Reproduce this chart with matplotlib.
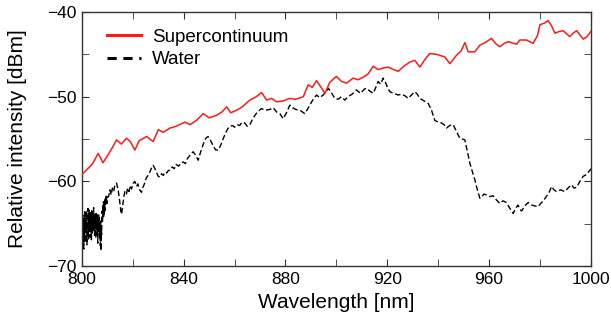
import matplotlib
matplotlib.use("Agg")
import matplotlib.pyplot as plt
from matplotlib.lines import Line2D
from matplotlib.ticker import MultipleLocator
import numpy as np

plt.rcParams['font.family'] = ['Liberation Sans', 'DejaVu Sans']

# Supercontinuum spectrum (red)
sc_wl = [800, 802, 804, 806.4, 808.3, 810, 812, 813.6, 815.5, 817.5, 819, 820.8, 822.5,
         825.4, 828, 830, 832, 834.6, 837, 840.5, 842.5, 845, 847.7, 850, 852.9, 855,
         856.9, 858.5, 860.8, 863, 866, 868.5, 870.6, 872.6, 874.5, 876.5, 879, 881.7,
         884, 887, 888.9, 890.5, 892.2, 894, 895.5, 897.4, 900, 902, 904, 906.6, 908.5,
         910.5, 912.5, 914.5, 916.4, 918.5, 920.4, 922.5, 924.3, 926.5, 928.9, 930.8,
         932.8, 934.8, 936.7, 939.4, 942.6, 944.6, 947.2, 949, 950.5, 951.8, 954.4,
         956.4, 958.5, 961, 962.5, 964.2, 966, 967.5, 970.8, 972.1, 974.7, 977.3, 979,
         980, 981.8, 983.2, 984.5, 985.9, 987.5, 989.1, 991.7, 993, 994.4, 997, 998.5, 1000]
sc_db = [-59.2, -58.6, -58.0, -56.7, -57.8, -57.0, -56.0, -55.1, -55.6, -54.9, -55.3,
         -56.3, -55.2, -54.7, -55.3, -53.9, -54.2, -53.7, -53.5, -53.0, -53.3, -52.8,
         -52.0, -52.5, -52.2, -51.8, -51.2, -51.9, -51.6, -51.2, -50.4, -50.0, -49.5,
         -50.4, -50.2, -50.6, -50.5, -50.2, -50.3, -50.0, -48.6, -48.9, -48.1, -48.9,
         -49.6, -48.3, -47.6, -48.2, -48.4, -47.8, -48.0, -47.7, -47.3, -46.4, -46.8,
         -46.6, -46.5, -46.8, -47.0, -46.4, -45.9, -45.7, -46.5, -45.6, -44.9, -45.0,
         -45.3, -46.1, -45.1, -44.6, -43.6, -44.7, -44.7, -43.9, -43.6, -43.1, -43.7,
         -44.1, -43.7, -43.5, -43.8, -43.3, -43.3, -43.7, -42.8, -41.5, -41.3, -41.0,
         -41.6, -42.5, -42.3, -42.2, -42.9, -42.5, -42.2, -43.2, -42.9, -42.3]

# Water-filtered spectrum (black dashed): noisy start, 800-810 nm in 0.125 nm steps
w_wl_noisy = [800.0, 800.125, 800.25, 800.375, 800.5, 800.625, 800.75, 800.875,
              801.0, 801.125, 801.25, 801.375, 801.5, 801.625, 801.75, 801.875,
              802.0, 802.125, 802.25, 802.375, 802.5, 802.625, 802.75, 802.875,
              803.0, 803.125, 803.25, 803.375, 803.5, 803.625, 803.75, 803.875,
              804.0, 804.125, 804.25, 804.375, 804.5, 804.625, 804.75, 804.875,
              805.0, 805.125, 805.25, 805.375, 805.5, 805.625, 805.75, 805.875,
              806.0, 806.125, 806.25, 806.375, 806.5, 806.625, 806.75, 806.875,
              807.0, 807.125, 807.25, 807.375, 807.5, 807.625, 807.75, 807.875,
              808.0, 808.125, 808.25, 808.375, 808.5, 808.625, 808.75, 808.875,
              809.0, 809.125, 809.25, 809.375, 809.5, 809.625, 809.75, 809.875, 810.0]
w_db_noisy = [-69.5, -66.0, -67.8, -64.6, -66.9, -65.2, -68.0, -64.0,
              -66.5, -63.6, -65.8, -67.2, -64.3, -66.0, -63.5, -65.4,
              -67.5, -64.8, -66.3, -63.2, -65.0, -66.8, -64.1, -63.4,
              -65.9, -64.2, -66.6, -63.7, -65.3, -64.0, -66.9, -63.3,
              -64.7, -66.2, -63.8, -65.6, -64.4, -63.1, -65.8, -64.5,
              -66.4, -63.9, -65.1, -64.2, -66.7, -63.6, -64.9, -65.7,
              -63.8, -65.5, -67.3, -64.6, -66.1, -63.9, -65.2, -64.3,
              -66.8, -65.0, -67.6, -64.7, -68.2, -65.4, -66.3, -64.1,
              -63.5, -64.8, -62.9, -63.9, -62.4, -64.2, -62.7, -63.6,
              -62.1, -63.4, -61.9, -62.8, -61.6, -62.5, -61.8, -62.6, -61.9]
w_wl_rest = [810.5, 811, 811.5, 812, 812.5, 813, 813.6, 814.2, 814.8, 815.3, 815.6, 816.0,
             816.5, 816.9, 817.5, 818, 818.5, 819, 819.5, 820.2, 820.8, 821.5, 822, 822.7,
             823.4, 824, 824.7, 825.3, 826, 826.7, 827.4, 828, 828.7, 829.4, 830, 830.6,
             831.3, 832, 832.7, 833.4, 834, 834.6, 835.5, 836.3, 837, 838, 838.8, 839.8,
             840.7, 841.5, 842.5, 843.7, 844.7, 845.7, 846.7, 847.7, 848.7, 849.6, 850.6,
             851.6, 852.6, 853.6, 854.6, 855.6, 856.6, 857.5, 858.2, 859.2, 860, 861, 862,
             863, 864, 865, 866, 867, 868, 869, 870.6, 872, 873.9, 875.2, 876.5, 877.8,
             879.1, 880.4, 881.7, 882.8, 884, 885.7, 887.6, 889, 890.5, 892.2, 893.5,
             894.8, 896, 896.8, 898, 899.4, 900.7, 902, 903.3, 904.6, 906.2, 907.9, 909.5,
             911, 911.9, 913, 914.5, 915.5, 916.4, 917.4, 918.4, 919.3, 920.2, 921, 922.5,
             924.3, 925.6, 927, 928.2, 929.5, 930.8, 931.8, 932.8, 934.5, 936.1, 937.4,
             938.7, 940, 941.3, 942.3, 943.3, 944.6, 945.9, 947.2, 948.5, 949.5, 950.5,
             951.5, 952.5, 953.5, 954.4, 955.4, 956.4, 957.2, 958, 959, 960.3, 961.6,
             962.9, 964.2, 965.5, 966.8, 968.2, 969.5, 970.4, 971.4, 972.1, 972.8, 974,
             975.4, 976.7, 978, 979.3, 980.3, 981.3, 982.5, 983.6, 984.6, 985.5, 986.5,
             988, 989.8, 991, 992.4, 993.4, 994.4, 995.7, 997, 998.3, 999.6, 1000]
w_db_rest = [-61.8, -61.0, -61.6, -60.8, -61.2, -60.4, -60.2, -60.9, -62.2, -63.5, -63.9,
             -63.0, -61.8, -61.2, -61.5, -60.8, -61.2, -60.5, -60.9, -60.2, -60.0, -60.6,
             -60.3, -61.0, -61.3, -60.7, -60.2, -59.6, -59.3, -58.9, -58.4, -58.1, -58.5,
             -59.0, -59.4, -59.5, -59.1, -59.3, -58.9, -59.0, -58.7, -58.7, -58.3, -58.5,
             -58.0, -58.2, -57.9, -57.7, -57.9, -57.3, -56.9, -56.5, -56.9, -57.5, -56.5,
             -55.6, -54.9, -54.7, -55.2, -55.8, -56.3, -56.3, -55.7, -54.9, -54.2, -53.7,
             -53.5, -53.4, -53.6, -53.3, -53.4, -53.0, -53.1, -53.5, -53.3, -52.7, -52.2,
             -51.8, -51.4, -51.6, -51.5, -51.3, -51.8, -52.0, -52.6, -51.9, -51.0, -51.3,
             -51.5, -51.6, -52.0, -51.3, -50.5, -49.8, -50.1, -49.8, -49.4, -49.0, -49.5,
             -50.2, -50.3, -50.0, -50.4, -50.0, -49.7, -49.2, -49.6, -49.1, -49.0, -49.3,
             -49.6, -48.9, -48.2, -48.5, -47.8, -48.3, -49.0, -49.4, -49.6, -49.8, -49.7,
             -49.9, -50.2, -49.8, -49.4, -49.7, -50.2, -50.5, -50.8, -51.6, -52.8, -53.0,
             -53.1, -53.3, -53.7, -53.4, -53.3, -54.1, -54.9, -55.0, -55.1, -56.5, -57.9,
             -58.9, -59.8, -61.0, -62.0, -61.8, -61.5, -61.6, -61.8, -61.7, -62.2, -62.6,
             -62.3, -62.5, -63.2, -63.8, -63.2, -62.8, -63.3, -63.5, -62.9, -62.5, -62.8,
             -62.9, -63.0, -62.6, -62.3, -61.8, -61.3, -60.6, -61.0, -61.2, -61.0, -61.2,
             -60.8, -60.4, -60.8, -60.7, -60.0, -59.4, -59.2, -58.7, -58.5]

x_ticks = [800, 840, 880, 920, 960, 1000]
y_ticks = [-70, -60, -50, -40]

fig = plt.figure(figsize=(6.11, 3.26), dpi=100)
ax = fig.add_axes([0.134, 0.184, 0.833, 0.779])

ax.plot(sc_wl, sc_db, color='#ff1a1a', lw=1.1, zorder=3)
ax.plot(w_wl_noisy + w_wl_rest, w_db_noisy + w_db_rest, color='black', lw=1.0,
        dashes=(4, 2), zorder=2)

ax.set_xlim(800, 1000)
ax.set_ylim(-70, -40)
ax.set_xticks(x_ticks)
ax.set_yticks(y_ticks)
ax.xaxis.set_minor_locator(MultipleLocator(20))
ax.yaxis.set_minor_locator(MultipleLocator(5))
ax.tick_params(which='both', direction='in', top=True, right=True, labelsize=12.5,
               color='#333333')
ax.tick_params(axis='x', which='both', pad=4)
ax.tick_params(axis='y', which='both', pad=4)
ax.tick_params(which='major', length=5)
ax.tick_params(which='minor', length=5)
for s in ax.spines.values():
    s.set_color('#333333')
    s.set_linewidth(1.0)

ax.set_xlabel('Wavelength [nm]', fontsize=15, labelpad=4.5)
ax.set_ylabel('Relative intensity [dBm]', fontsize=15, labelpad=14)

handles = [Line2D([], [], color='#ff1a1a', lw=2.2),
           Line2D([], [], color='black', lw=2.2, dashes=(3, 2.2))]
ax.legend(handles, ['Supercontinuum', 'Water'], loc='upper left', frameon=False,
          fontsize=13.5, handlelength=1.8, handletextpad=0.6, labelspacing=0.3,
          borderaxespad=0.0, bbox_to_anchor=(0.035, 0.965))

fig.savefig('out.png', dpi=100)
